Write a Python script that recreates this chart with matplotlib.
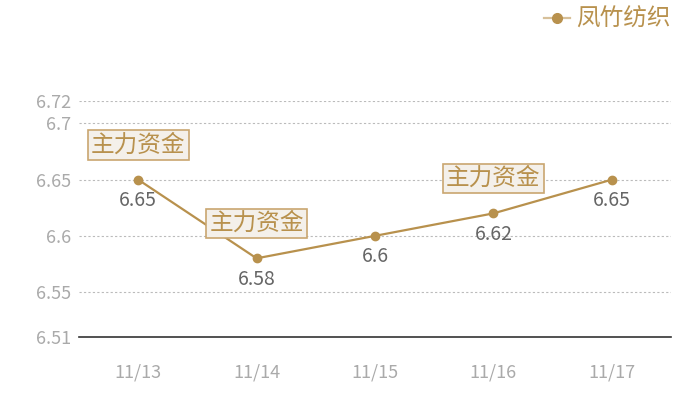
import matplotlib
matplotlib.use("Agg")
import matplotlib.pyplot as plt
from matplotlib.lines import Line2D

plt.rcParams['font.family'] = ['Noto Sans CJK SC', 'DejaVu Sans']

dates = ["11/13", "11/14", "11/15", "11/16", "11/17"]
prices = [6.65, 6.58, 6.6, 6.62, 6.65]
price_labels = ["6.65", "6.58", "6.6", "6.62", "6.65"]
flag_idx = [0, 1, 3]
flag_text = "主力资金"
series_name = "凤竹纺织"
yticks = [6.51, 6.55, 6.6, 6.65, 6.7, 6.72]
ytick_labels = ["6.51", "6.55", "6.6", "6.65", "6.7", "6.72"]

gold = "#b8914d"

fig = plt.figure(figsize=(7, 4), dpi=100)
ax = fig.add_axes([79 / 700, 1 - 337 / 400, 592 / 700, 236 / 400])

x = list(range(len(dates)))
ax.plot(x, prices, color=gold, lw=1.6, marker='o', ms=6, zorder=3)

for i in x:
    ax.annotate(price_labels[i], (i, prices[i]), xytext=(0, -15), textcoords='offset points',
                ha='center', va='center', fontsize=14, color='#666666', zorder=4)

for i in flag_idx:
    ax.annotate(flag_text, (i, prices[i]), xytext=(0, 25), textcoords='offset points',
                ha='center', va='center', fontsize=17, color=gold, zorder=5,
                bbox=dict(boxstyle='square,pad=0.14', fc='#f4f0ea', ec='#c9a670', lw=1.2))

ax.set_xlim(-0.5, 4.5)
ax.set_ylim(6.51, 6.72)
ax.set_xticks(x)
ax.set_xticklabels(dates)
ax.set_yticks(yticks)
ax.set_yticklabels(ytick_labels)
ax.tick_params(axis='both', length=0, labelsize=13, colors='#aaaaaa')
ax.tick_params(axis='x', pad=19)
ax.tick_params(axis='y', pad=6)

for t in yticks[1:]:
    ax.axhline(t, color='#bbbbbb', lw=0.8, ls=(0, (2, 2)), zorder=1)

for s in ['top', 'right', 'left']:
    ax.spines[s].set_visible(False)
ax.spines['bottom'].set_color('#333333')
ax.spines['bottom'].set_linewidth(1.2)

handle = Line2D([], [], color='#d7c09a', lw=1.6, marker='o', ms=7,
                markerfacecolor=gold, markeredgecolor=gold)
fig.legend([handle], [series_name], loc='upper right', bbox_to_anchor=(0.975, 1.01),
           frameon=False, fontsize=17, labelcolor=gold, handlelength=1.1,
           handletextpad=0.25, borderaxespad=0.1)

fig.savefig("out.png", dpi=100)
